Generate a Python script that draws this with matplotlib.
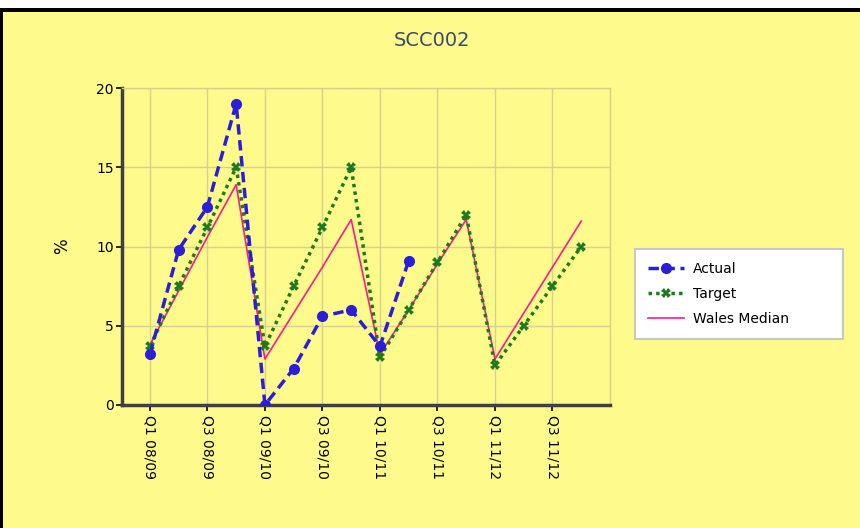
import matplotlib.pyplot as plt
from matplotlib.patches import Rectangle

# quarterly series, Q1 08/09 .. Q4 11/12
quarters = ['Q1 08/09', 'Q2 08/09', 'Q3 08/09', 'Q4 08/09',
            'Q1 09/10', 'Q2 09/10', 'Q3 09/10', 'Q4 09/10',
            'Q1 10/11', 'Q2 10/11', 'Q3 10/11', 'Q4 10/11',
            'Q1 11/12', 'Q2 11/12', 'Q3 11/12', 'Q4 11/12']
actual = [3.2, 9.8, 12.5, 19.0, 0.0, 2.3, 5.6, 6.0, 3.7, 9.1]
target = [3.7, 7.5, 11.2, 15.0, 3.7, 7.5, 11.2, 15.0,
          3.0, 6.0, 9.0, 12.0, 2.5, 5.0, 7.5, 10.0]
wales_median = [3.8, 7.2, 10.6, 13.9, 2.9, 5.8, 8.7, 11.7,
                3.2, 6.0, 8.9, 11.7, 2.9, 5.8, 8.7, 11.6]

bg = '#fffa8c'
grid_col = '#d6d18c'

fig = plt.figure(figsize=(8.6, 5.28), dpi=100, facecolor=bg)

# frame around the panel
fig.patches.append(Rectangle((0, 1 - 8 / 528), 1, 8 / 528, transform=fig.transFigure,
                             facecolor='white', edgecolor='none', zorder=0))
fig.patches.append(Rectangle((0, 1 - 12 / 528), 1, 4 / 528, transform=fig.transFigure,
                             facecolor='black', edgecolor='none', zorder=0))
fig.patches.append(Rectangle((0, 0), 3 / 860, 1 - 8 / 528, transform=fig.transFigure,
                             facecolor='black', edgecolor='none', zorder=0))

ax = fig.add_axes([122 / 860, 1 - 405 / 528, 488 / 860, 317 / 528])
ax.set_facecolor(bg)

x = list(range(len(quarters)))
ax.plot(x, wales_median, color='#ff1a8c', lw=1.2, label='Wales Median', zorder=3)
ax.plot(x, target, color='#1e7a1e', lw=2.5, ls=(0, (1, 1.2)), marker='X',
        markersize=7, markeredgewidth=0, label='Target', zorder=4)
ax.plot(x[:len(actual)], actual, color='#2a1ed6', lw=2.5, ls=(0, (3, 1.6)), marker='o',
        markersize=7, label='Actual', zorder=5)

ax.set_xlim(-0.97, 16.0)
ax.set_ylim(0, 20)
ax.set_yticks([0, 5, 10, 15, 20])
ax.set_xticks(x[::2])
ax.set_xticklabels(quarters[::2], rotation=270, fontsize=10)
ax.tick_params(axis='y', labelsize=10, length=4, width=1.2, pad=2)
ax.tick_params(axis='x', length=4, width=1.2, pad=3)
ax.grid(True, color=grid_col, lw=1)
ax.set_axisbelow(True)

for side in ('left', 'bottom'):
    ax.spines[side].set_color('#404040')
    ax.spines[side].set_linewidth(2.5)
for side in ('top', 'right'):
    ax.spines[side].set_color(grid_col)
    ax.spines[side].set_linewidth(1)

ax.set_ylabel('%', fontsize=12, labelpad=18)
fig.text(432 / 860, 1 - 40 / 528, 'SCC002', ha='center', va='center',
         fontsize=14, color='#3a4a6a')

handles, labels = ax.get_legend_handles_labels()
order = [2, 1, 0]
leg = ax.legend([handles[i] for i in order], [labels[i] for i in order],
                loc='center', mode='expand',
                bbox_to_anchor=(635 / 860, 1 - 343 / 528, 208 / 860, 98 / 528),
                bbox_transform=fig.transFigure, fontsize=10, frameon=True,
                fancybox=False, framealpha=1, edgecolor='#c8c8c8',
                borderpad=0.95, handlelength=2.6, handletextpad=0.65,
                labelspacing=0.8, borderaxespad=0)
leg.get_frame().set_linewidth(1.5)

fig.savefig('out.png', dpi=100, facecolor=bg)
